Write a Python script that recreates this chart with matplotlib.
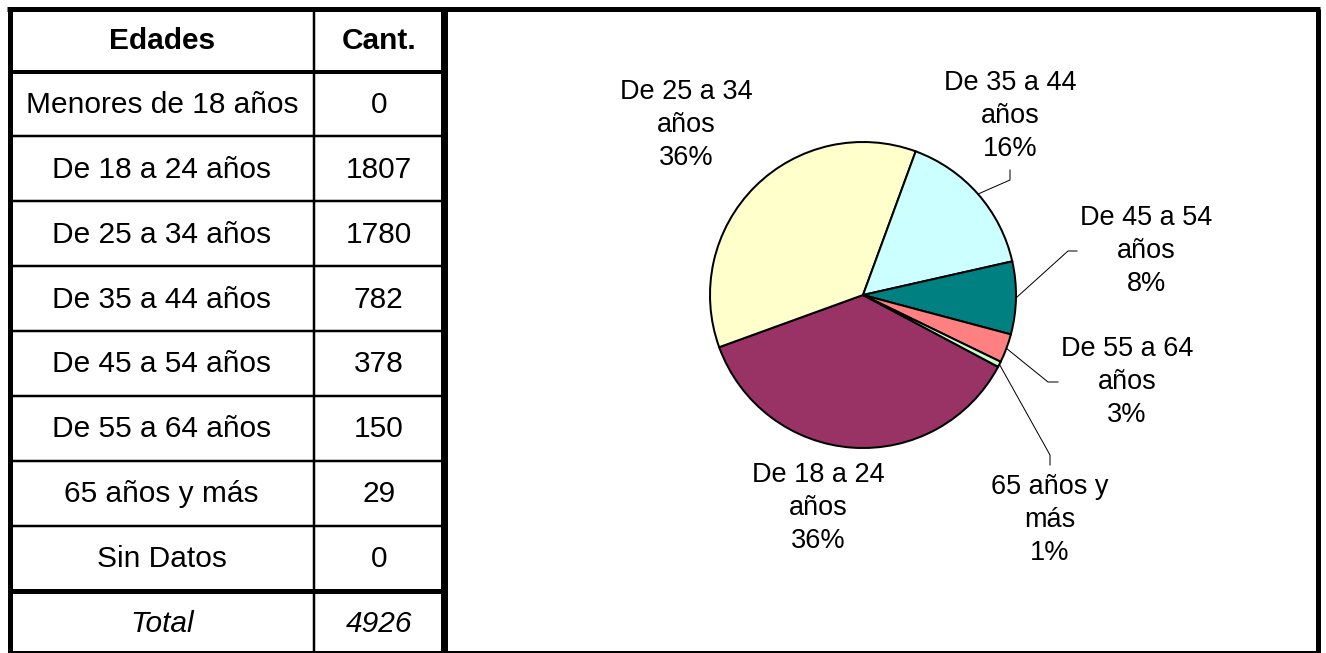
import matplotlib.pyplot as plt
import numpy as np

plt.rcParams['font.family'] = ['Liberation Sans', 'DejaVu Sans']

# datos de la tabla
edades = ['Menores de 18 años', 'De 18 a 24 años', 'De 25 a 34 años', 'De 35 a 44 años',
          'De 45 a 54 años', 'De 55 a 64 años', '65 años y más', 'Sin Datos']
cantidades = [0, 1807, 1780, 782, 378, 150, 29, 0]
total = 4926

# etiquetas de la torta (solo las categorías con valor)
etiquetas_torta = ['De 18 a 24\naños', 'De 25 a 34\naños', 'De 35 a 44\naños',
                   'De 45 a 54\naños', 'De 55 a 64\naños', '65 años y\nmás']
porcentajes = ['36%', '36%', '16%', '8%', '3%', '1%']
colores = ['#993366', '#FFFFCC', '#CCFFFF', '#008080', '#FF8080', '#CCFFCC']

W, H = 1326, 653
fig = plt.figure(figsize=(W / 100, H / 100), dpi=100)
ax = fig.add_axes([0, 0, 1, 1])
ax.set_xlim(0, W)
ax.set_ylim(H, 0)
ax.axis('off')

px = 0.72  # 1 pixel en puntos

# --- tabla ---
x_izq, x_div, x_der = 9.5, 314, 443.5
y_top, y_head = 8.5, 71.5
alto_fila = (590.5 - y_head) / len(edades)
fs = 21.5

ax.text((x_izq + x_div) / 2, (y_top + y_head) / 2 + 1, 'Edades', ha='center', va='center',
        fontsize=fs, fontweight='bold')
ax.text((x_div + x_der) / 2, (y_top + y_head) / 2 + 1, 'Cant.', ha='center', va='center',
        fontsize=fs, fontweight='bold')

for i, (e, c) in enumerate(zip(edades, cantidades)):
    yc = y_head + alto_fila * (i + 0.5) + 1
    ax.text((x_izq + x_div) / 2, yc, e, ha='center', va='center', fontsize=fs)
    ax.text((x_div + x_der) / 2, yc, str(c), ha='center', va='center', fontsize=fs)
    if i > 0:
        y = y_head + alto_fila * i
        ax.plot([x_izq, x_der], [y, y], color='black', lw=2.5 * px)

y_tot = y_head + alto_fila * len(edades)
ax.text((x_izq + x_div) / 2, (y_tot + H) / 2 + 2, 'Total', ha='center', va='center',
        fontsize=fs, style='italic')
ax.text((x_div + x_der) / 2, (y_tot + H) / 2 + 2, str(total), ha='center', va='center',
        fontsize=fs, style='italic')

ax.plot([x_izq, x_der], [y_head, y_head], color='black', lw=4 * px)
ax.plot([x_izq, x_der], [y_tot, y_tot], color='black', lw=5 * px)
ax.plot([x_div, x_div], [y_top, H], color='black', lw=2.5 * px)

# marco exterior
ax.plot([x_izq - 2.5, 1320], [y_top, y_top], color='black', lw=5 * px, solid_capstyle='butt')
ax.plot([x_izq, x_izq], [y_top, H], color='black', lw=5 * px, solid_capstyle='butt')
ax.plot([1317.5, 1317.5], [y_top, H], color='black', lw=5 * px, solid_capstyle='butt')
ax.plot([x_der, x_der], [y_top, H], color='black', lw=7 * px, solid_capstyle='butt')
ax.plot([x_izq, 1320], [651.5, 651.5], color='black', lw=2 * px)

# --- torta ---
cx, cy, r = 863, 295, 153
pax = fig.add_axes([(cx - r) / W, (H - cy - r) / H, 2 * r / W, 2 * r / H])
valores = [c for c in cantidades if c > 0]
wedges, _ = pax.pie(valores, colors=colores, startangle=-28, counterclock=False,
                    radius=1, wedgeprops=dict(edgecolor='black', linewidth=2 * px))
pax.set_xlim(-1, 1)
pax.set_ylim(-1, 1)
pax.axis('off')
for w in wedges:
    w.set_clip_on(False)

# posiciones de las etiquetas (pixeles) y codos de las líneas guía
fs_torta = 19.5
pos_etiq = [(818, 508), (686, 125), (1010, 116), (1146, 251), (1127, 382), (1050, 520)]
codos = [None, None, [(1010, 180), (1010, 170)], [(1068, 251), (1077, 251)],
         [(1048, 382), (1058, 382)], [(1050, 455), (1050, 465)]]

for w, et, pc, (lx, ly), cd in zip(wedges, etiquetas_torta, porcentajes, pos_etiq, codos):
    ax.text(lx, ly, et + '\n' + pc, ha='center', va='center', fontsize=fs_torta,
            multialignment='center', linespacing=1.37)
    if cd is not None:
        ang = np.deg2rad((w.theta1 + w.theta2) / 2)
        sx, sy = cx + r * np.cos(ang), cy - r * np.sin(ang)
        xs = [sx] + [p[0] for p in cd]
        ys = [sy] + [p[1] for p in cd]
        ax.plot(xs, ys, color='black', lw=1 * px)

fig.savefig('out.png', dpi=100)
